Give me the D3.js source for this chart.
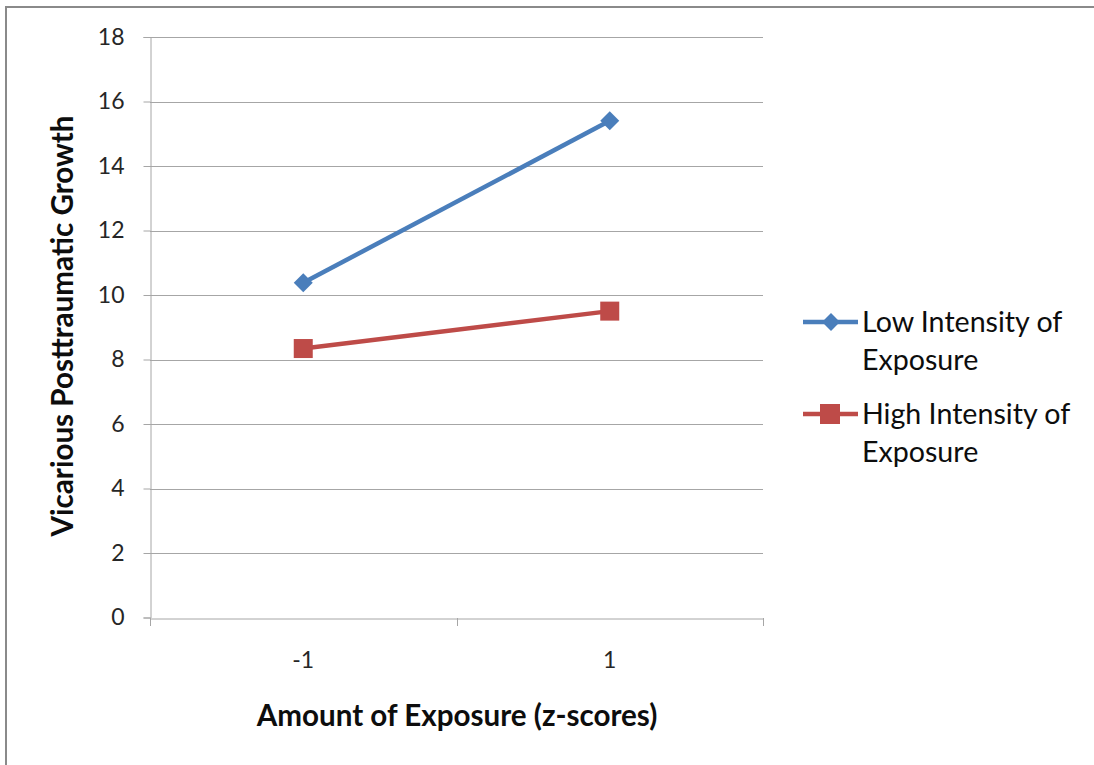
<!DOCTYPE html>
<html><head><meta charset="utf-8">
<script src="https://cdn.jsdelivr.net/npm/d3@7"></script>
<style>
html,body{margin:0;padding:0;background:#fff;}
svg text{font-family:Lato, "Open Sans", sans-serif;}
</style></head>
<body>
<svg id="chart" width="1094" height="765"></svg>
<script>
const categories = ["-1", "1"];
const lowIntensity = [10.38, 15.4];
const highIntensity = [8.34, 9.5];
const seriesNames = ["Low Intensity of Exposure", "High Intensity of Exposure"];
const yTicks = [0, 2, 4, 6, 8, 10, 12, 14, 16, 18];
const xTitle = "Amount of Exposure (z-scores)";
const yTitle = "Vicarious Posttraumatic Growth";

(function () {
const svg = d3.select("#chart");
const pLeft = 150, pRight = 763, pTop = 37, pBottom = 617.5;

// outer border
svg.append("rect").attr("x", 6).attr("y", 7).attr("width", 1100).attr("height", 800)
  .attr("fill", "#fff").attr("stroke", "#8a8a8a").attr("stroke-width", 2);

const x = d3.scaleBand().domain(categories).range([pLeft, pRight]);
const y = d3.scaleLinear().domain([0, 18]).range([pBottom, pTop]);

// gridlines
svg.append("g").selectAll("line").data(yTicks.filter(d => d > 0)).join("line")
  .attr("x1", pLeft).attr("x2", pRight)
  .attr("y1", d => Math.round(y(d)) + 0.5).attr("y2", d => Math.round(y(d)) + 0.5)
  .attr("stroke", "#a6a6a6").attr("stroke-width", 1);

// y axis
const yAxis = svg.append("g").attr("transform", `translate(${pLeft + 0.5},0)`)
  .call(d3.axisLeft(y).tickValues(yTicks).tickSize(7).tickPadding(19));
yAxis.select(".domain").attr("stroke", "#a6a6a6");
yAxis.selectAll(".tick line").attr("stroke", "#a6a6a6");
yAxis.selectAll(".tick text").attr("font-size", 23).attr("fill", "#262626")
  .style("font-family", "Lato, sans-serif");

// x axis
const xAxis = svg.append("g").attr("transform", `translate(0,${Math.round(pBottom) + 0.5})`)
  .call(d3.axisBottom(x).tickSize(0).tickPadding(33));
xAxis.select(".domain").attr("stroke", "#a6a6a6");
xAxis.selectAll(".tick text").attr("font-size", 23).attr("fill", "#262626")
  .style("font-family", "Lato, sans-serif");
const bounds = categories.map(c => x(c)).concat([x(categories[categories.length - 1]) + x.bandwidth()]);
svg.append("g").selectAll("line").data(bounds).join("line")
  .attr("x1", d => Math.round(d) + 0.5).attr("x2", d => Math.round(d) + 0.5)
  .attr("y1", Math.round(pBottom)).attr("y2", Math.round(pBottom) + 8)
  .attr("stroke", "#a6a6a6");

// titles
svg.append("text").attr("x", (pLeft + pRight) / 2 + 0.5).attr("y", 726)
  .attr("text-anchor", "middle").attr("font-size", 29.6).attr("font-weight", "bold")
  .attr("fill", "#0d0d0d").text(xTitle);
svg.append("text").attr("transform", `translate(73,${326}) rotate(-90)`)
  .attr("text-anchor", "middle").attr("font-size", 29.6).attr("font-weight", "bold")
  .attr("fill", "#0d0d0d").text(yTitle);

const cx = d => x(d) + x.bandwidth() / 2;
const colors = ["#4a7ebb", "#be4b48"];
const seriesData = [lowIntensity, highIntensity];
const line = d3.line().x((d, i) => cx(categories[i])).y(d => y(d));

seriesData.forEach((vals, si) => {
  svg.append("path").datum(vals).attr("d", line)
    .attr("fill", "none").attr("stroke", colors[si]).attr("stroke-width", 4.5);
  const g = svg.append("g");
  vals.forEach((v, i) => {
    const px = cx(categories[i]), py = y(v);
    if (si === 0) {
      g.append("path").attr("d", d3.symbol(d3.symbolSquare, 180)())
        .attr("transform", `translate(${px},${py}) rotate(45)`).attr("fill", colors[si]);
    } else {
      g.append("rect").attr("x", px - 9.5).attr("y", py - 9.5).attr("width", 19).attr("height", 19)
        .attr("fill", colors[si]);
    }
  });
});

// legend
const legendLines = [["Low Intensity of", "Exposure"], ["High Intensity of", "Exposure"]];
const legY = [322, 414];
legendLines.forEach((lines, i) => {
  const g = svg.append("g");
  g.append("line").attr("x1", 803).attr("x2", 858).attr("y1", legY[i]).attr("y2", legY[i])
    .attr("stroke", colors[i]).attr("stroke-width", 4.5);
  if (i === 0) {
    g.append("path").attr("d", d3.symbol(d3.symbolSquare, 160)())
      .attr("transform", `translate(831,${legY[i]}) rotate(45)`).attr("fill", colors[i]);
  } else {
    g.append("rect").attr("x", 820).attr("y", legY[i] - 10).attr("width", 20).attr("height", 20)
      .attr("fill", colors[i]);
  }
  lines.forEach((t, j) => {
    g.append("text").attr("x", 862).attr("y", legY[i] + j * 38).attr("dy", "0.35em")
      .attr("font-size", 28.6).attr("fill", "#0d0d0d").text(t);
  });
});
})();
</script>
</body></html>
